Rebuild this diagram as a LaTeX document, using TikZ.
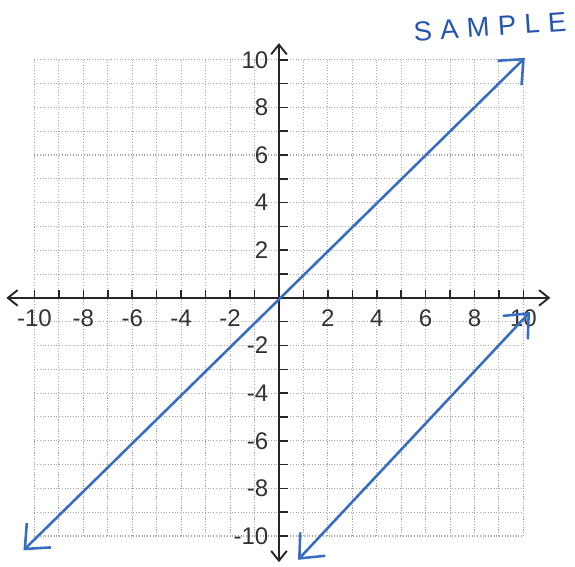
\documentclass[tikz,border=0pt]{standalone}
\usepackage{fontspec}
\setmainfont{Liberation Sans}
\newfontfamily\handfont[LetterSpace=30]{Liberation Sans}
\usetikzlibrary{arrows.meta}
\definecolor{cPen}{RGB}{55,110,195}
\definecolor{cInk}{RGB}{35,85,175}
\definecolor{cGrid}{RGB}{165,165,165}
\tikzset{
  gridline/.style={cGrid, densely dotted, line width=0.6pt},
  axisline/.style={{Straight Barb[length=2mm,width=3.2mm]}-{Straight Barb[length=2mm,width=3.2mm]},
                   line width=1.1pt, black!85},
  tickmark/.style={line width=0.9pt, black!85},
  ticklabel/.style={font=\fontsize{14}{14}\selectfont, text=black!80, inner sep=1pt},
  penline/.style={{Straight Barb[length=4mm,width=7mm]}-{Straight Barb[length=4mm,width=7mm]},
                  line width=1.5pt, cPen, line cap=round},
  handtext/.style={font=\handfont\fontsize{16}{16}\selectfont, text=cInk}
}

\begin{document}
\begin{tikzpicture}[x=0.5cm, y=0.487cm]

  \useasboundingbox (-11.41,-11.30) rectangle (12.11,12.51);

  % ── Grid ──
  \foreach \i in {-10,...,10} {
    \draw[gridline] (\i,-10) -- (\i,10);
    \draw[gridline] (-10,\i) -- (10,\i);
  }

  % ── Axes ──
  \coordinate (xleft)   at (-11.15,0);
  \coordinate (xright)  at (11.1,0);
  \coordinate (ytop)    at (0,10.7);
  \coordinate (ybottom) at (0,-11.1);
  \draw[axisline] (xleft) -- (xright);
  \draw[axisline] (ybottom) -- (ytop);

  % ── Ticks ──
  \foreach \i in {-10,...,-1,1,2,...,10} {
    \draw[tickmark] (\i,0) -- ++(0,0.34);
    \draw[tickmark] (0,\i) -- ++(0.37,0);
  }

  % ── Tick labels ──
  \foreach \i in {-10,-8,...,-2,2,4,...,10} {
    \node[ticklabel] (xl\i) at (\i,-0.85) {\i};
    \node[ticklabel, anchor=east] (yl\i) at (-0.35,\i) {\i};
  }

  % ── Lines ──
  \coordinate (lineAlo) at (-10.45,-10.6);
  \coordinate (lineAhi) at (10.06,10.08);
  \coordinate (lineBlo) at (0.78,-11.0);
  \coordinate (lineBhi) at (10.27,-0.59);
  \draw[penline] (lineAlo) -- (lineAhi);
  \draw[penline] (lineBlo) -- (lineBhi);

  % ── Handwritten note ──
  \node[handtext, rotate=4] (sample) at (8.63,11.39) {SAMPLE};

\end{tikzpicture}
\end{document}
